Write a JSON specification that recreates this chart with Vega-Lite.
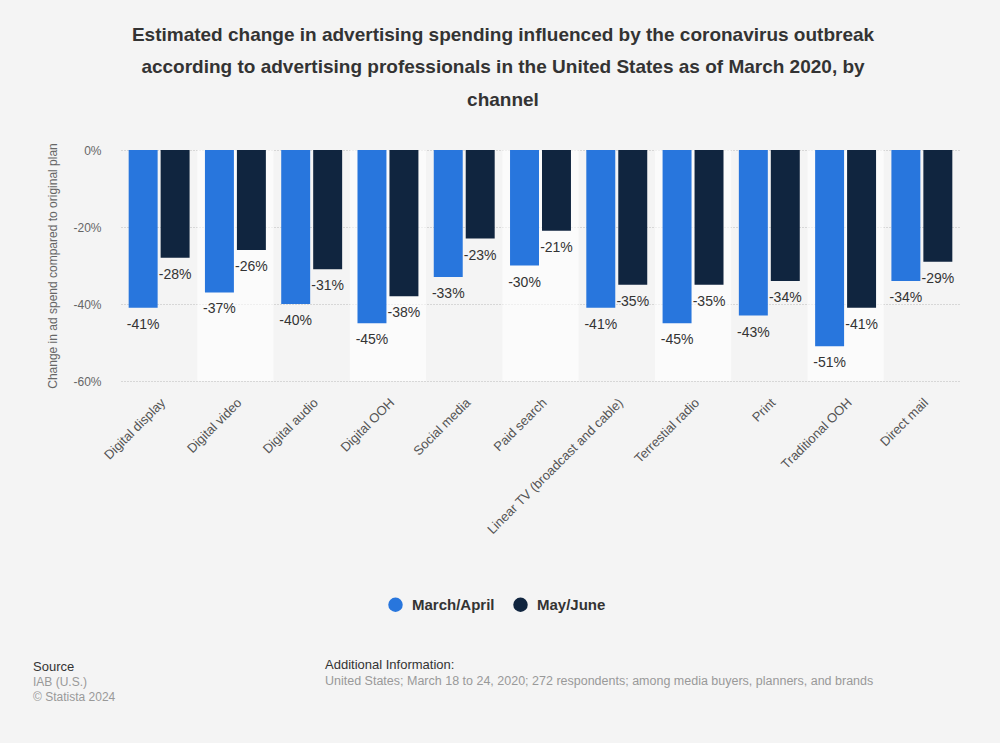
{
  "$schema": "https://vega.github.io/schema/vega-lite/v6.json",
  "background": "#f4f4f4",
  "padding": {"left": 33, "top": 25, "right": 40, "bottom": 28},
  "autosize": {"type": "pad"},
  "title": {
    "text": ["Estimated change in advertising spending influenced by the coronavirus outbreak", "according to advertising professionals in the United States as of March 2020, by", "channel"],
    "fontSize": 19, "fontWeight": "bold", "color": "#333333", "lineHeight": 32.5,
    "anchor": "middle", "offset": 33, "font": "Liberation Sans"
  },
  "config": {
    "view": {"stroke": null},
    "font": "Liberation Sans"
  },
  "spacing": 122,
  "vconcat": [
    {
      "width": 839,
      "height": 231,
      "data": {"values": [
        {"channel": "Digital display", "period": "March/April", "value": -41},
        {"channel": "Digital display", "period": "May/June", "value": -28},
        {"channel": "Digital video", "period": "March/April", "value": -37},
        {"channel": "Digital video", "period": "May/June", "value": -26},
        {"channel": "Digital audio", "period": "March/April", "value": -40},
        {"channel": "Digital audio", "period": "May/June", "value": -31},
        {"channel": "Digital OOH", "period": "March/April", "value": -45},
        {"channel": "Digital OOH", "period": "May/June", "value": -38},
        {"channel": "Social media", "period": "March/April", "value": -33},
        {"channel": "Social media", "period": "May/June", "value": -23},
        {"channel": "Paid search", "period": "March/April", "value": -30},
        {"channel": "Paid search", "period": "May/June", "value": -21},
        {"channel": "Linear TV (broadcast and cable)", "period": "March/April", "value": -41},
        {"channel": "Linear TV (broadcast and cable)", "period": "May/June", "value": -35},
        {"channel": "Terrestial radio", "period": "March/April", "value": -45},
        {"channel": "Terrestial radio", "period": "May/June", "value": -35},
        {"channel": "Print", "period": "March/April", "value": -43},
        {"channel": "Print", "period": "May/June", "value": -34},
        {"channel": "Traditional OOH", "period": "March/April", "value": -51},
        {"channel": "Traditional OOH", "period": "May/June", "value": -41},
        {"channel": "Direct mail", "period": "March/April", "value": -34},
        {"channel": "Direct mail", "period": "May/June", "value": -29}
      ]},
      "encoding": {
        "x": {
          "field": "channel", "type": "nominal", "sort": null,
          "scale": {"paddingInner": 0, "paddingOuter": 0},
          "axis": {
            "title": null, "labelAngle": -45, "labelFontSize": 13, "labelColor": "#555555",
            "domain": false, "ticks": false, "labelPadding": 15, "labelLimit": 300
          }
        }
      },
      "layer": [
        {
          "transform": [
            {"filter": "datum.period === 'March/April'"},
            {"window": [{"op": "row_number", "as": "idx"}]}
          ],
          "mark": {"type": "rect", "fill": "#ffffff"},
          "encoding": {
            "y": {"datum": 0, "type": "quantitative"},
            "y2": {"datum": -60},
            "opacity": {"condition": {"test": "datum.idx % 2 === 0", "value": 0.6}, "value": 0}
          }
        },
        {
          "mark": {"type": "bar"},
          "encoding": {
            "xOffset": {"field": "period", "type": "nominal", "scale": {"paddingInner": 0.094, "paddingOuter": 0.24}},
            "y": {
              "field": "value", "type": "quantitative",
              "scale": {"domain": [-60, 0]},
              "axis": {
                "values": [0, -20, -40, -60],
                "labelExpr": "datum.value + '%'",
                "title": "Change in ad spend compared to original plan",
                "titleFontSize": 12, "titleFontWeight": "normal", "titleColor": "#666666",
                "titlePadding": 13,
                "labelFontSize": 12, "labelColor": "#666666", "labelPadding": 20,
                "domain": false, "ticks": false,
                "grid": true, "gridColor": "#bbbbbb", "gridDash": [1, 2], "gridWidth": 1
              }
            },
            "color": {
              "field": "period", "type": "nominal",
              "scale": {"domain": ["March/April", "May/June"], "range": ["#2876dd", "#10253f"]},
              "legend": {
                "title": null, "orient": "none", "direction": "horizontal",
                "legendX": 267, "legendY": 447, "padding": 0,
                "symbolType": "circle", "symbolSize": 210, "symbolStrokeWidth": 0,
                "labelFontSize": 15, "labelFontWeight": "bold", "labelColor": "#333333",
                "labelOffset": 9, "columnPadding": 18
              }
            }
          }
        },
        {
          "transform": [{"calculate": "datum.value + '%'", "as": "label"}],
          "mark": {"type": "text", "baseline": "top", "dy": 10, "fontSize": 14, "color": "#333333"},
          "encoding": {
            "xOffset": {"field": "period", "type": "nominal"},
            "y": {"field": "value", "type": "quantitative"},
            "text": {"field": "label"}
          }
        },
        {
          "mark": {"type": "rule", "color": "#000000", "strokeWidth": 1.5},
          "encoding": {"y": {"datum": 0, "type": "quantitative"}}
        }
      ]
    },
    {
      "spacing": 4,
      "hconcat": [
        {
          "width": 200, "height": 1,
          "data": {"values": [{}]},
          "mark": {"type": "text"},
          "encoding": {"text": {"value": ""}},
          "title": {
            "text": "Source", "subtitle": ["IAB (U.S.)", "© Statista 2024"],
            "anchor": "start", "frame": "group", "dx": -88, "fontSize": 13, "fontWeight": "normal", "color": "#333333",
            "subtitleFontSize": 12, "subtitleColor": "#999999", "subtitleLineHeight": 15, "subtitlePadding": 3
          }
        },
        {
          "width": 560, "height": 1,
          "data": {"values": [{}]},
          "mark": {"type": "text"},
          "encoding": {"text": {"value": ""}},
          "title": {
            "text": "Additional Information:", "subtitle": ["United States; March 18 to 24, 2020; 272 respondents; among media buyers, planners, and brands", " "],
            "anchor": "start", "frame": "group", "dx": -88, "fontSize": 13, "fontWeight": "normal", "color": "#333333",
            "subtitleFontSize": 12.5, "subtitleColor": "#999999", "subtitleLineHeight": 15, "subtitlePadding": 3
          }
        }
      ]
    }
  ]
}
